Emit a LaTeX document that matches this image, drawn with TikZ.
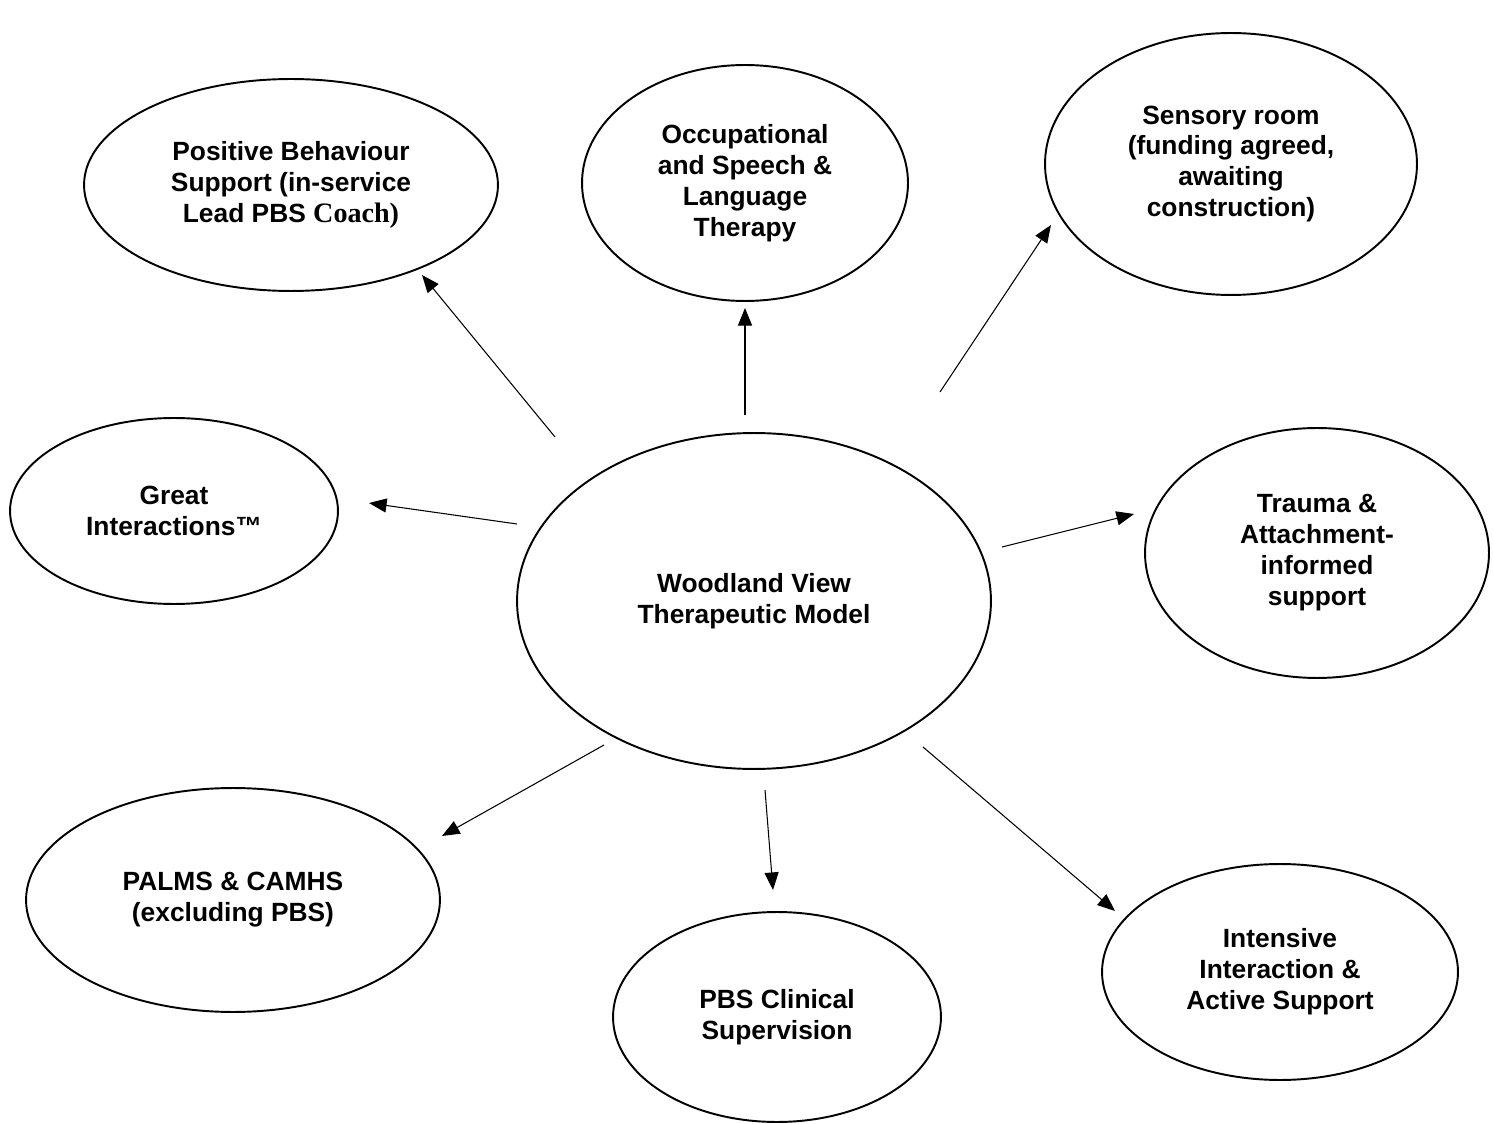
\documentclass[tikz,border=0pt]{standalone}
\usepackage{fontspec}
\newfontfamily\arialfont{Liberation Sans}
\newfontfamily\timesfont{Liberation Serif}
\usetikzlibrary{shapes.geometric,arrows.meta}
\tikzset{
  bubble/.style={ellipse, draw, line width=1.1pt, inner sep=0pt, align=center,
    font=\arialfont\bfseries\fontsize{15}{17.6}\selectfont},
  link/.style={line width=0.6pt, -{Triangle[length=10pt,width=8pt]}}
}
\begin{document}
\begin{tikzpicture}[x=0.02cm, y=-0.02cm]
\useasboundingbox (0,0) rectangle (1494,1124);
% ellipses
\node[bubble, minimum width=8.28cm, minimum height=4.24cm] (pbs) at (291,185)
  {Positive Behaviour\\Support (in-service\\Lead PBS {\timesfont\fontsize{16}{17.6}\selectfont Coach)}};
\node[bubble, minimum width=6.52cm, minimum height=4.72cm] (occ) at (745,183)
  {Occupational\\and Speech \&\\Language\\Therapy};
\node[bubble, minimum width=7.44cm, minimum height=5.24cm] (sens) at (1231,164)
  {Sensory room\\(funding agreed,\\awaiting\\construction)};
\node[bubble, minimum width=6.56cm, minimum height=3.72cm] (great) at (174,511)
  {Great\\Interactions™};
\node[bubble, minimum width=9.48cm, minimum height=6.72cm] (wood) at (754,601)
  {Woodland View\\Therapeutic Model};
\node[bubble, minimum width=6.88cm, minimum height=5.0cm] (trauma) at (1317,553)
  {Trauma \&\\Attachment-\\informed\\support};
\node[bubble, minimum width=8.28cm, minimum height=4.48cm] (palms) at (233,900)
  {PALMS \& CAMHS\\(excluding PBS)};
\node[bubble, minimum width=6.56cm, minimum height=4.2cm] (pbsc) at (777,1017)
  {PBS Clinical\\Supervision};
\node[bubble, minimum width=7.12cm, minimum height=4.32cm] (inten) at (1280,972)
  {Intensive\\Interaction \&\\Active Support};
% arrow end points
\coordinate (a1s) at (555,437);  \coordinate (a1e) at (422,275);
\coordinate (a2s) at (745,415);  \coordinate (a2e) at (745,308);
\coordinate (a3s) at (940,392);  \coordinate (a3e) at (1051,225);
\coordinate (a4s) at (517,524);  \coordinate (a4e) at (369,503);
\coordinate (a5s) at (1002,547); \coordinate (a5e) at (1134,514);
\coordinate (a6s) at (604,745);  \coordinate (a6e) at (442,836);
\coordinate (a7s) at (765,790);  \coordinate (a7e) at (773,890);
\coordinate (a8s) at (923,747);  \coordinate (a8e) at (1115,911);
\draw[link] (a1s) -- (a1e);
\draw[link] (a2s) -- (a2e);
\draw[link] (a3s) -- (a3e);
\draw[link] (a4s) -- (a4e);
\draw[link] (a5s) -- (a5e);
\draw[link] (a6s) -- (a6e);
\draw[link] (a7s) -- (a7e);
\draw[link] (a8s) -- (a8e);
\end{tikzpicture}
\end{document}
